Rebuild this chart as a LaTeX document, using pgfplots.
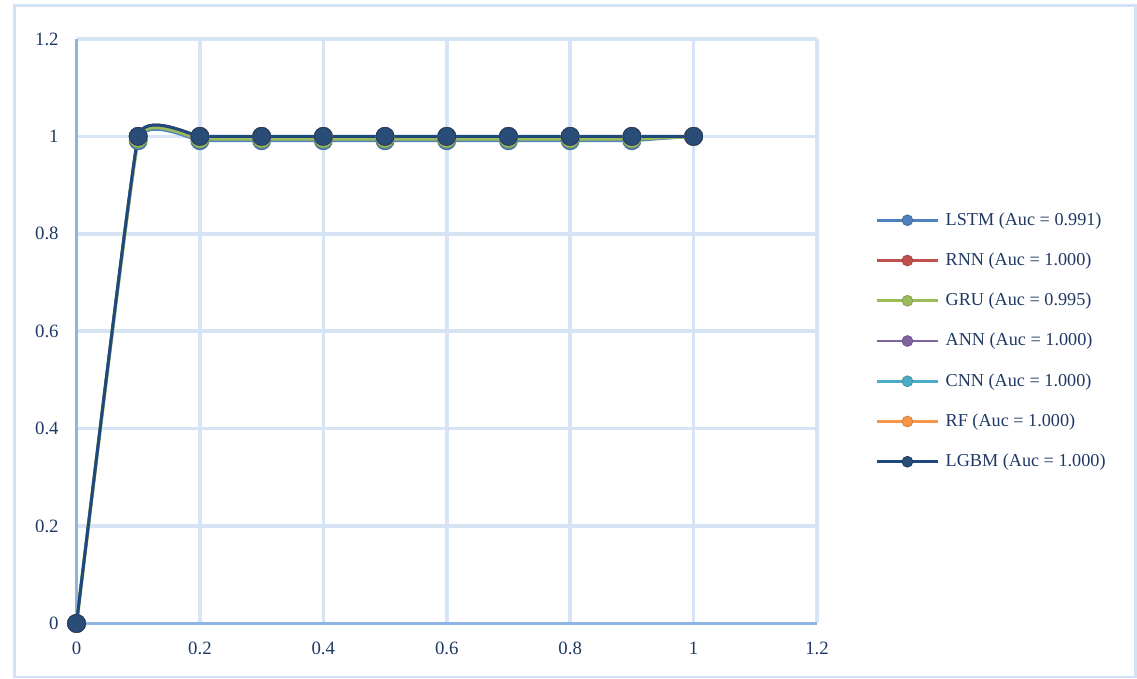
\documentclass[border=0pt]{standalone}
\usepackage{fontspec}
\setmainfont{Liberation Serif}
\usepackage{pgfplots}
\pgfplotsset{compat=1.18}
\definecolor{cLSTM}{HTML}{4F81BD}
\definecolor{cRNN}{HTML}{C0504D}
\definecolor{cGRU}{HTML}{9BBB59}
\definecolor{cANN}{HTML}{8064A2}
\definecolor{cCNN}{HTML}{4BACC6}
\definecolor{cRF}{HTML}{F79646}
\definecolor{cLGBM}{HTML}{1F497D}
\definecolor{mLGBM}{HTML}{2A4D78}
\definecolor{bordc}{HTML}{D3E2F4}
\definecolor{gridc}{HTML}{D6E4F5}
\definecolor{axisc}{HTML}{8EB4E3}
\definecolor{labelc}{HTML}{1F3864}
\begin{document}
\fontsize{9.4pt}{11pt}\selectfont
\begin{tikzpicture}[x=0.5pt,y=0.5pt]
\useasboundingbox (0,0) rectangle (1137,679);
\draw[bordc, line width=1.25pt] (14.5,2) rectangle (1135.5,673.5);
\begin{axis}[
  at={(38.25pt,27.75pt)}, anchor=south west,
  width=370.25pt, height=292.25pt, scale only axis,
  xmin=0, xmax=1.2, ymin=0, ymax=1.2,
  xtick={0,0.2,0.4,0.6,0.8,1,1.2},
  ytick={0,0.2,0.4,0.6,0.8,1,1.2},
  axis x line=bottom, axis y line=left,
  axis line style={axisc, line width=1.5pt, -},
  grid=major, major grid style={gridc, line width=1.75pt},
  major tick length=0pt, tick style={draw=none},
  /pgf/number format/assume math mode=true,
  ticklabel style={font=\fontsize{9.4pt}{11pt}\selectfont, text=labelc},
  xticklabel style={anchor=center, inner sep=0pt, yshift=-12.25pt},
  yticklabel style={anchor=east, inner sep=0pt, xshift=-8.75pt},
  clip=false,
  legend cell align=left,
  legend style={at={(1.0785,0.4833)}, anchor=west, draw=none, fill=none,
    inner sep=0pt, row sep=12.4pt, text=labelc,
    font=\fontsize{9.1pt}{11pt}\selectfont,
    nodes={inner sep=0pt}},
  legend image code/.code={\draw[#1, line width=1.4pt, mark size=2.7pt, mark repeat=2, mark phase=2] plot coordinates {(0pt,0pt) (15.25pt,0pt) (30.5pt,0pt)}; \path (33.5pt,0pt);},
  every axis plot/.append style={smooth, tension=0.19, mark=*},
]
\addplot[cLSTM, line width=1.25pt, mark options={fill=cLSTM, draw=cLSTM!85!black, line width=0.4pt}, mark size=4.5pt]
  coordinates {(0,0) (0.1,0.991) (0.2,0.991) (0.3,0.991) (0.4,0.991) (0.5,0.991) (0.6,0.991) (0.7,0.991) (0.8,0.991) (0.9,0.991) (1,1)};
\addlegendentry{LSTM (Auc = 0.991)}
\addplot[cRNN, line width=1.25pt, mark options={fill=cRNN, draw=cRNN!85!black, line width=0.4pt}, mark size=4.5pt]
  coordinates {(0,0) (0.1,1) (0.2,1) (0.3,1) (0.4,1) (0.5,1) (0.6,1) (0.7,1) (0.8,1) (0.9,1) (1,1)};
\addlegendentry{RNN (Auc = 1.000)}
\addplot[cGRU, line width=1.75pt, mark options={fill=cGRU, draw=cGRU!85!black, line width=0.4pt}, mark size=4.5pt]
  coordinates {(0,0) (0.1,0.995) (0.2,0.995) (0.3,0.995) (0.4,0.995) (0.5,0.995) (0.6,0.995) (0.7,0.995) (0.8,0.995) (0.9,0.995) (1,1)};
\addlegendentry{GRU (Auc = 0.995)}
\addplot[cANN, line width=1.25pt, mark options={fill=cANN, draw=cANN!85!black, line width=0.4pt}, mark size=4.5pt]
  coordinates {(0,0) (0.1,1) (0.2,1) (0.3,1) (0.4,1) (0.5,1) (0.6,1) (0.7,1) (0.8,1) (0.9,1) (1,1)};
\addlegendentry{ANN (Auc = 1.000)}
\addplot[cCNN, line width=1.25pt, mark options={fill=cCNN, draw=cCNN!85!black, line width=0.4pt}, mark size=4.5pt]
  coordinates {(0,0) (0.1,1) (0.2,1) (0.3,1) (0.4,1) (0.5,1) (0.6,1) (0.7,1) (0.8,1) (0.9,1) (1,1)};
\addlegendentry{CNN (Auc = 1.000)}
\addplot[cRF, line width=1.25pt, mark options={fill=cRF, draw=cRF!85!black, line width=0.4pt}, mark size=4.5pt]
  coordinates {(0,0) (0.1,1) (0.2,1) (0.3,1) (0.4,1) (0.5,1) (0.6,1) (0.7,1) (0.8,1) (0.9,1) (1,1)};
\addlegendentry{RF (Auc = 1.000)}
\addplot[cLGBM, line width=1.5pt, mark options={fill=mLGBM, draw=cLGBM!80!black, line width=0.4pt}, mark size=4.5pt]
  coordinates {(0,0) (0.1,1) (0.2,1) (0.3,1) (0.4,1) (0.5,1) (0.6,1) (0.7,1) (0.8,1) (0.9,1) (1,1)};
\addlegendentry{LGBM (Auc = 1.000)}
\end{axis}
\end{tikzpicture}
\end{document}
